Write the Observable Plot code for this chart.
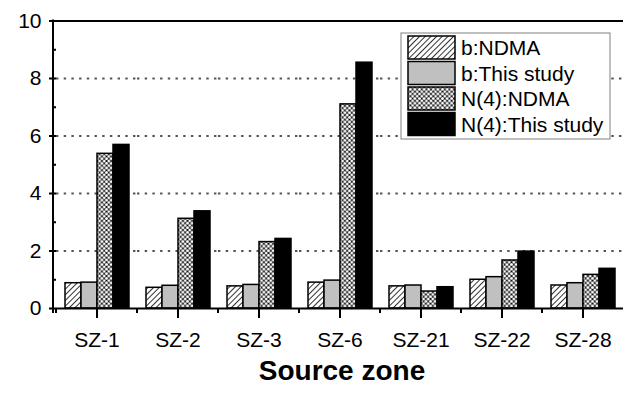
<!DOCTYPE html>
<html>
<head>
<meta charset="utf-8">
<script src="https://cdn.jsdelivr.net/npm/d3@7"></script>
<script src="https://cdn.jsdelivr.net/npm/@observablehq/plot@0.6"></script>
<style>
  html, body { margin: 0; padding: 0; background: #fff; }
  #chart { width: 626px; height: 395px; }
</style>
</head>
<body>
<div id="chart"></div>
<script>
// Source zones along the x axis
const zones = ["SZ-1", "SZ-2", "SZ-3", "SZ-6", "SZ-21", "SZ-22", "SZ-28"];

// Series names (legend order)
const seriesNames = ["b:NDMA", "b:This study", "N(4):NDMA", "N(4):This study"];

// Values per source zone
const bNDMA      = [0.88, 0.72, 0.77, 0.90, 0.77, 1.00, 0.80];
const bThisStudy = [0.90, 0.79, 0.82, 0.97, 0.80, 1.09, 0.88];
const nNDMA      = [5.38, 3.12, 2.31, 7.10, 0.59, 1.67, 1.17];
const nThisStudy = [5.69, 3.38, 2.42, 8.55, 0.74, 1.98, 1.38];

// Y axis ticks
const majorTicks = [0, 2, 4, 6, 8, 10];
const minorTicks = [1, 3, 5, 7, 9];
const gridTicks = [2, 4, 6, 8];

// Fills for each series (patterns are defined in the SVG below)
const seriesFills = ["url(#hatch)", "#c0c0c0", "url(#cross)", "#000000"];

const seriesValues = [bNDMA, bThisStudy, nNDMA, nThisStudy];
const rows = zones.flatMap((zone, i) =>
  seriesNames.map((series, j) => ({zone, series, value: seriesValues[j][i]}))
);

const font = "'Liberation Sans', Arial, Helvetica, sans-serif";

const chart = Plot.plot({
  width: 626,
  height: 395,
  marginLeft: 53,
  marginRight: 0,
  marginTop: 20.5,
  marginBottom: 87,
  style: {fontFamily: font, background: "#fff", color: "#000", overflow: "visible"},
  fx: {domain: zones, padding: 0, label: null},
  x: {domain: seriesNames, paddingInner: 0, paddingOuter: 0.48, axis: null},
  y: {domain: [0, 10], label: null},
  color: {domain: seriesNames, range: seriesFills},
  marks: [
    Plot.gridY(gridTicks, {stroke: "#555", strokeOpacity: 1, strokeWidth: 2, strokeDasharray: "2.4,5.3"}),
    Plot.barY(rows, {fx: "zone", x: "series", y: "value", fill: "series", stroke: "#000", strokeWidth: 1.5}),
    Plot.ruleY([0, 10], {stroke: "#000", strokeWidth: 2}),
    Plot.axisY({ticks: majorTicks, tickSize: 7, tickPadding: 8, fontSize: 21, strokeWidth: 2, tickFormat: d => String(d), label: null}),
    Plot.axisY({ticks: minorTicks, tickSize: 4, strokeWidth: 2, tickFormat: () => "", label: null}),
    Plot.axisFx({anchor: "bottom", tickSize: 10, tickPadding: 14, fontSize: 21, strokeWidth: 2, label: null})
  ]
});

document.getElementById("chart").appendChild(chart);

const svg = d3.select(chart);
const y = chart.scale("y");
const fx = chart.scale("fx");
const y0 = y.apply(0);
const y10 = y.apply(10);

// Fill patterns
const defs = svg.insert("defs", ":first-child");
const hatch = defs.append("pattern")
  .attr("id", "hatch").attr("patternUnits", "userSpaceOnUse")
  .attr("width", 4).attr("height", 4).attr("patternTransform", "rotate(45)");
hatch.append("rect").attr("width", 4).attr("height", 4).attr("fill", "#fff");
hatch.append("line").attr("x1", 0.5).attr("y1", 0).attr("x2", 0.5).attr("y2", 4)
  .attr("stroke", "#333").attr("stroke-width", 1);

const cs = 4.6;
const cross = defs.append("pattern")
  .attr("id", "cross").attr("patternUnits", "userSpaceOnUse")
  .attr("width", cs).attr("height", cs);
cross.append("rect").attr("width", cs).attr("height", cs).attr("fill", "#111");
for (const [cx, cy] of [[0, 0], [cs, 0], [0, cs], [cs, cs], [cs / 2, cs / 2]]) {
  cross.append("circle").attr("cx", cx).attr("cy", cy).attr("r", 1.45).attr("fill", "#fff");
}

// Left axis line
svg.append("line")
  .attr("x1", 53).attr("x2", 53).attr("y1", y10 - 1).attr("y2", y0 + 5)
  .attr("stroke", "#000").attr("stroke-width", 2);

// Minor ticks at the boundaries between zones
svg.append("g").selectAll("line").data(zones).join("line")
  .attr("x1", d => fx.apply(d)).attr("x2", d => fx.apply(d))
  .attr("y1", y0).attr("y2", y0 + 5)
  .attr("stroke", "#000").attr("stroke-width", 2);

// X axis title
svg.append("text")
  .attr("x", 342).attr("y", 380)
  .attr("text-anchor", "middle")
  .attr("font-family", font).attr("font-weight", "bold").attr("font-size", 28)
  .attr("fill", "#000")
  .text("Source zone");

// Legend
const legend = svg.append("g")
  .attr("transform", "translate(401,33)")
  .attr("text-anchor", "start");
legend.append("rect")
  .attr("width", 209).attr("height", 106)
  .attr("fill", "#fff").attr("stroke", "#808080").attr("stroke-width", 1);
seriesNames.forEach((name, i) => {
  const row = legend.append("g").attr("transform", `translate(7,${3 + i * 25.5})`);
  row.append("rect")
    .attr("width", 47).attr("height", 23)
    .attr("fill", seriesFills[i]).attr("stroke", "#000").attr("stroke-width", 1.5);
  row.append("text")
    .attr("x", 53).attr("y", 19)
    .attr("text-anchor", "start")
    .attr("font-family", font).attr("font-size", 21).attr("fill", "#000")
    .text(name);
});
</script>
</body>
</html>
